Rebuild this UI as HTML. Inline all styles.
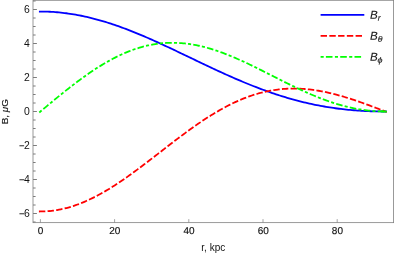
<!DOCTYPE html><html><head><meta charset="utf-8"><style>html,body{margin:0;padding:0;background:#fff}svg{display:block;will-change:transform}text{font-family:"Liberation Sans",sans-serif}</style></head><body>
<svg width="395" height="255" viewBox="0 0 395 255">
<rect width="395" height="255" fill="#fff"/>
<path d="M33.00 222.00 h2.60 M33.00 213.50 h3.90 M33.00 205.00 h2.60 M33.00 196.50 h2.60 M33.00 188.00 h2.60 M33.00 179.50 h3.90 M33.00 171.00 h2.60 M33.00 162.50 h2.60 M33.00 154.00 h2.60 M33.00 145.50 h3.90 M33.00 137.00 h2.60 M33.00 128.50 h2.60 M33.00 120.00 h2.60 M33.00 111.50 h3.90 M33.00 103.00 h2.60 M33.00 94.50 h2.60 M33.00 86.00 h2.60 M33.00 77.50 h3.90 M33.00 69.00 h2.60 M33.00 60.50 h2.60 M33.00 52.00 h2.60 M33.00 43.50 h3.90 M33.00 35.00 h2.60 M33.00 26.50 h2.60 M33.00 18.00 h2.60 M33.00 9.50 h3.90 M33.00 1.00 h2.60" stroke="#5a5a5a" stroke-width="0.8" fill="none"/>
<path d="M40.40 222.65 v-3.50 M114.60 222.65 v-3.50 M188.80 222.65 v-3.50 M263.00 222.65 v-3.50 M337.20 222.65 v-3.50" stroke="#7c7c7c" stroke-width="0.7" fill="none"/>
<rect x="33.00" y="0.30" width="360.60" height="222.35" fill="none" stroke="#808080" stroke-width="0.8"/>
<g fill="none" stroke-width="1.8" stroke-linejoin="round" stroke-linecap="square">
<path d="M39.83 11.54 L40.43 11.54 L42.29 11.55 L44.14 11.58 L46.00 11.62 L47.85 11.68 L49.71 11.76 L51.56 11.86 L53.42 11.97 L55.27 12.11 L57.13 12.26 L58.98 12.42 L60.84 12.61 L62.69 12.81 L64.55 13.03 L66.40 13.26 L68.26 13.52 L70.11 13.79 L71.97 14.07 L73.82 14.38 L75.68 14.70 L77.53 15.03 L79.39 15.38 L81.24 15.75 L83.10 16.14 L84.95 16.54 L86.80 16.95 L88.66 17.38 L90.51 17.83 L92.37 18.29 L94.22 18.77 L96.08 19.26 L97.93 19.76 L99.79 20.28 L101.64 20.82 L103.50 21.37 L105.35 21.93 L107.21 22.50 L109.06 23.09 L110.92 23.69 L112.77 24.31 L114.63 24.93 L116.48 25.57 L118.34 26.22 L120.19 26.89 L122.05 27.56 L123.90 28.24 L125.76 28.94 L127.61 29.65 L129.47 30.36 L131.32 31.09 L133.18 31.83 L135.03 32.58 L136.88 33.33 L138.74 34.10 L140.59 34.87 L142.45 35.65 L144.30 36.44 L146.16 37.24 L148.01 38.04 L149.87 38.86 L151.72 39.68 L153.58 40.50 L155.43 41.33 L157.29 42.17 L159.14 43.01 L161.00 43.86 L162.85 44.72 L164.71 45.57 L166.56 46.44 L168.42 47.30 L170.27 48.17 L172.13 49.05 L173.98 49.92 L175.84 50.80 L177.69 51.69 L179.55 52.57 L181.40 53.45 L183.26 54.34 L185.11 55.23 L186.96 56.12 L188.82 57.01 L190.67 57.90 L192.53 58.79 L194.38 59.68 L196.24 60.57 L198.09 61.45 L199.95 62.34 L201.80 63.22 L203.66 64.11 L205.51 64.99 L207.37 65.87 L209.22 66.74 L211.08 67.61 L212.93 68.48 L214.79 69.35 L216.64 70.21 L218.50 71.07 L220.35 71.92 L222.21 72.77 L224.06 73.61 L225.92 74.45 L227.77 75.28 L229.63 76.11 L231.48 76.93 L233.34 77.75 L235.19 78.55 L237.04 79.36 L238.90 80.15 L240.75 80.94 L242.61 81.72 L244.46 82.49 L246.32 83.26 L248.17 84.01 L250.03 84.76 L251.88 85.50 L253.74 86.24 L255.59 86.96 L257.45 87.67 L259.30 88.38 L261.16 89.08 L263.01 89.76 L264.87 90.44 L266.72 91.11 L268.58 91.77 L270.43 92.42 L272.29 93.06 L274.14 93.68 L276.00 94.30 L277.85 94.91 L279.71 95.51 L281.56 96.09 L283.42 96.67 L285.27 97.23 L287.12 97.79 L288.98 98.33 L290.83 98.86 L292.69 99.38 L294.54 99.89 L296.40 100.39 L298.25 100.88 L300.11 101.36 L301.96 101.82 L303.82 102.27 L305.67 102.72 L307.53 103.15 L309.38 103.57 L311.24 103.97 L313.09 104.37 L314.95 104.76 L316.80 105.13 L318.66 105.49 L320.51 105.84 L322.37 106.18 L324.22 106.51 L326.08 106.83 L327.93 107.13 L329.79 107.43 L331.64 107.71 L333.50 107.98 L335.35 108.25 L337.20 108.50 L339.06 108.74 L340.91 108.97 L342.77 109.18 L344.62 109.39 L346.48 109.59 L348.33 109.78 L350.19 109.95 L352.04 110.12 L353.90 110.27 L355.75 110.42 L357.61 110.56 L359.46 110.68 L361.32 110.80 L363.17 110.91 L365.03 111.00 L366.88 111.09 L368.74 111.17 L370.59 111.24 L372.45 111.30 L374.30 111.36 L376.16 111.40 L378.01 111.44 L379.87 111.47 L381.72 111.48 L383.58 111.50 L385.43 111.50 L385.93 111.50" stroke="#0000ff"/>
<path d="M39.83 211.47 L40.43 211.46 L42.29 211.44 L44.14 211.39 L46.00 211.30 L47.85 211.17 L49.71 211.02 L51.56 210.82 L53.42 210.59 L55.27 210.33 L57.13 210.03 L58.98 209.70 L60.84 209.33 L62.69 208.93 L64.55 208.49 L66.40 208.02 L68.26 207.52 L70.11 206.99 L71.97 206.42 L73.82 205.82 L75.68 205.19 L77.53 204.52 L79.39 203.83 L81.24 203.10 L83.10 202.35 L84.95 201.57 L86.80 200.75 L88.66 199.91 L90.51 199.04 L92.37 198.14 L94.22 197.21 L96.08 196.26 L97.93 195.28 L99.79 194.28 L101.64 193.25 L103.50 192.20 L105.35 191.12 L107.21 190.02 L109.06 188.90 L110.92 187.76 L112.77 186.59 L114.63 185.41 L116.48 184.20 L118.34 182.98 L120.19 181.74 L122.05 180.48 L123.90 179.21 L125.76 177.92 L127.61 176.61 L129.47 175.29 L131.32 173.96 L133.18 172.62 L135.03 171.26 L136.88 169.89 L138.74 168.51 L140.59 167.12 L142.45 165.73 L144.30 164.32 L146.16 162.91 L148.01 161.49 L149.87 160.07 L151.72 158.64 L153.58 157.21 L155.43 155.78 L157.29 154.34 L159.14 152.91 L161.00 151.47 L162.85 150.03 L164.71 148.59 L166.56 147.16 L168.42 145.73 L170.27 144.30 L172.13 142.88 L173.98 141.46 L175.84 140.05 L177.69 138.64 L179.55 137.24 L181.40 135.85 L183.26 134.47 L185.11 133.10 L186.96 131.74 L188.82 130.39 L190.67 129.05 L192.53 127.73 L194.38 126.42 L196.24 125.12 L198.09 123.84 L199.95 122.57 L201.80 121.32 L203.66 120.09 L205.51 118.87 L207.37 117.67 L209.22 116.49 L211.08 115.32 L212.93 114.18 L214.79 113.06 L216.64 111.96 L218.50 110.88 L220.35 109.82 L222.21 108.78 L224.06 107.76 L225.92 106.77 L227.77 105.80 L229.63 104.86 L231.48 103.94 L233.34 103.04 L235.19 102.17 L237.04 101.33 L238.90 100.51 L240.75 99.71 L242.61 98.94 L244.46 98.20 L246.32 97.49 L248.17 96.80 L250.03 96.14 L251.88 95.50 L253.74 94.90 L255.59 94.32 L257.45 93.76 L259.30 93.24 L261.16 92.75 L263.01 92.28 L264.87 91.84 L266.72 91.43 L268.58 91.04 L270.43 90.69 L272.29 90.36 L274.14 90.06 L276.00 89.78 L277.85 89.54 L279.71 89.32 L281.56 89.13 L283.42 88.97 L285.27 88.83 L287.12 88.73 L288.98 88.64 L290.83 88.59 L292.69 88.56 L294.54 88.56 L296.40 88.58 L298.25 88.63 L300.11 88.70 L301.96 88.80 L303.82 88.93 L305.67 89.07 L307.53 89.25 L309.38 89.44 L311.24 89.66 L313.09 89.90 L314.95 90.16 L316.80 90.45 L318.66 90.75 L320.51 91.08 L322.37 91.43 L324.22 91.80 L326.08 92.18 L327.93 92.59 L329.79 93.01 L331.64 93.46 L333.50 93.92 L335.35 94.39 L337.20 94.89 L339.06 95.39 L340.91 95.92 L342.77 96.46 L344.62 97.01 L346.48 97.58 L348.33 98.16 L350.19 98.75 L352.04 99.35 L353.90 99.96 L355.75 100.59 L357.61 101.22 L359.46 101.87 L361.32 102.52 L363.17 103.18 L365.03 103.85 L366.88 104.52 L368.74 105.20 L370.59 105.89 L372.45 106.58 L374.30 107.27 L376.16 107.97 L378.01 108.67 L379.87 109.38 L381.72 110.08 L383.58 110.79 L385.43 111.50 L385.90 111.68" stroke="#ff0000" stroke-dasharray="4.6 4.05"/>
<path d="M39.97 111.86 L40.43 111.47 L42.29 109.92 L44.14 108.38 L46.00 106.83 L47.85 105.29 L49.71 103.75 L51.56 102.21 L53.42 100.68 L55.27 99.15 L57.13 97.63 L58.98 96.12 L60.84 94.62 L62.69 93.13 L64.55 91.64 L66.40 90.17 L68.26 88.70 L70.11 87.25 L71.97 85.81 L73.82 84.39 L75.68 82.98 L77.53 81.58 L79.39 80.20 L81.24 78.84 L83.10 77.49 L84.95 76.17 L86.80 74.86 L88.66 73.56 L90.51 72.29 L92.37 71.04 L94.22 69.81 L96.08 68.60 L97.93 67.42 L99.79 66.26 L101.64 65.12 L103.50 64.00 L105.35 62.91 L107.21 61.84 L109.06 60.80 L110.92 59.78 L112.77 58.80 L114.63 57.83 L116.48 56.90 L118.34 55.99 L120.19 55.11 L122.05 54.26 L123.90 53.44 L125.76 52.64 L127.61 51.88 L129.47 51.14 L131.32 50.44 L133.18 49.77 L135.03 49.12 L136.88 48.51 L138.74 47.92 L140.59 47.37 L142.45 46.85 L144.30 46.36 L146.16 45.90 L148.01 45.48 L149.87 45.08 L151.72 44.72 L153.58 44.39 L155.43 44.09 L157.29 43.82 L159.14 43.58 L161.00 43.37 L162.85 43.20 L164.71 43.05 L166.56 42.94 L168.42 42.86 L170.27 42.81 L172.13 42.79 L173.98 42.80 L175.84 42.84 L177.69 42.91 L179.55 43.01 L181.40 43.14 L183.26 43.30 L185.11 43.49 L186.96 43.71 L188.82 43.95 L190.67 44.22 L192.53 44.52 L194.38 44.85 L196.24 45.21 L198.09 45.59 L199.95 45.99 L201.80 46.42 L203.66 46.88 L205.51 47.36 L207.37 47.86 L209.22 48.39 L211.08 48.94 L212.93 49.51 L214.79 50.11 L216.64 50.72 L218.50 51.36 L220.35 52.01 L222.21 52.69 L224.06 53.38 L225.92 54.09 L227.77 54.82 L229.63 55.57 L231.48 56.33 L233.34 57.11 L235.19 57.90 L237.04 58.71 L238.90 59.53 L240.75 60.36 L242.61 61.20 L244.46 62.06 L246.32 62.93 L248.17 63.80 L250.03 64.69 L251.88 65.58 L253.74 66.48 L255.59 67.39 L257.45 68.31 L259.30 69.23 L261.16 70.16 L263.01 71.09 L264.87 72.02 L266.72 72.96 L268.58 73.90 L270.43 74.84 L272.29 75.78 L274.14 76.72 L276.00 77.66 L277.85 78.60 L279.71 79.53 L281.56 80.47 L283.42 81.40 L285.27 82.32 L287.12 83.24 L288.98 84.16 L290.83 85.07 L292.69 85.97 L294.54 86.86 L296.40 87.75 L298.25 88.63 L300.11 89.50 L301.96 90.35 L303.82 91.20 L305.67 92.04 L307.53 92.86 L309.38 93.68 L311.24 94.48 L313.09 95.26 L314.95 96.04 L316.80 96.79 L318.66 97.54 L320.51 98.27 L322.37 98.98 L324.22 99.67 L326.08 100.35 L327.93 101.02 L329.79 101.66 L331.64 102.29 L333.50 102.90 L335.35 103.49 L337.20 104.06 L339.06 104.61 L340.91 105.14 L342.77 105.65 L344.62 106.14 L346.48 106.61 L348.33 107.07 L350.19 107.50 L352.04 107.90 L353.90 108.29 L355.75 108.66 L357.61 109.00 L359.46 109.32 L361.32 109.62 L363.17 109.90 L365.03 110.16 L366.88 110.39 L368.74 110.60 L370.59 110.79 L372.45 110.96 L374.30 111.10 L376.16 111.22 L378.01 111.32 L379.87 111.40 L381.72 111.46 L383.58 111.49 L385.43 111.50 L385.93 111.50" stroke="#00ff00" stroke-dasharray="1.3 4.0 4.8 4.0"/>
<path d="M381.83 111.38 L385.93 111.50" stroke="#00ff00"/>
</g><g fill="none" stroke-width="1.6" stroke-linecap="square">
<path d="M321.4 14.9 H363.5" stroke="#0000ff"/>
<path d="M321.4 35.9 H363.5" stroke="#ff0000" stroke-dasharray="4.8 3.95"/>
<path d="M321.4 56.9 H363.5" stroke="#00ff00" stroke-dasharray="1.5 3.8 5.0 4.0"/>
</g>
<g fill="#111" font-size="10.4" opacity="0.999">
<text x="29.70" y="217.24" text-anchor="end">6</text>
<rect x="19.42" y="213.35" width="4.7" height="0.9"/>
<text x="29.70" y="183.24" text-anchor="end">4</text>
<rect x="19.42" y="179.35" width="4.7" height="0.9"/>
<text x="29.70" y="149.24" text-anchor="end">2</text>
<rect x="19.42" y="145.35" width="4.7" height="0.9"/>
<text x="29.70" y="115.24" text-anchor="end">0</text>
<text x="29.70" y="81.24" text-anchor="end">2</text>
<text x="29.70" y="47.24" text-anchor="end">4</text>
<text x="29.70" y="13.24" text-anchor="end">6</text>
<text transform="translate(40.60 233.90) rotate(0.05)" text-anchor="middle" font-size="10" stroke="#111" stroke-width="0.16">0</text>
<text transform="translate(114.80 233.90) rotate(0.05)" text-anchor="middle" font-size="10" stroke="#111" stroke-width="0.16">20</text>
<text transform="translate(189.00 233.90) rotate(0.05)" text-anchor="middle" font-size="10" stroke="#111" stroke-width="0.16">40</text>
<text transform="translate(263.20 233.90) rotate(0.05)" text-anchor="middle" font-size="10" stroke="#111" stroke-width="0.16">60</text>
<text transform="translate(337.40 233.90) rotate(0.05)" text-anchor="middle" font-size="10" stroke="#111" stroke-width="0.16">80</text>
<text x="213.3" y="250.8" text-anchor="middle" font-size="10">r, kpc</text>
<text transform="translate(8.0 111.75) rotate(-90)" text-anchor="middle" font-size="9.9" stroke="#222" stroke-width="0.14">B, <tspan font-style="italic">μ</tspan>G</text>
</g>
<g fill="#1a1a1a" font-size="11.6" font-style="italic" stroke="#1a1a1a" stroke-width="0.12">
<text transform="translate(370.0 18.8) rotate(0.05)">B</text>
<text transform="translate(377.75 20.8) rotate(0.05) scale(1.00 1)" font-size="8.3">r</text>
<text transform="translate(370.0 39.8) rotate(0.05)">B</text>
<text transform="translate(377.75 41.8) rotate(0.05) scale(1.10 1)" font-size="8.0">θ</text>
<text transform="translate(370.0 60.8) rotate(0.05)">B</text>
<text transform="translate(377.55 62.8) rotate(0.05) scale(1.12 1)" font-size="8.0">ϕ</text>
</g>
</svg></body></html>
